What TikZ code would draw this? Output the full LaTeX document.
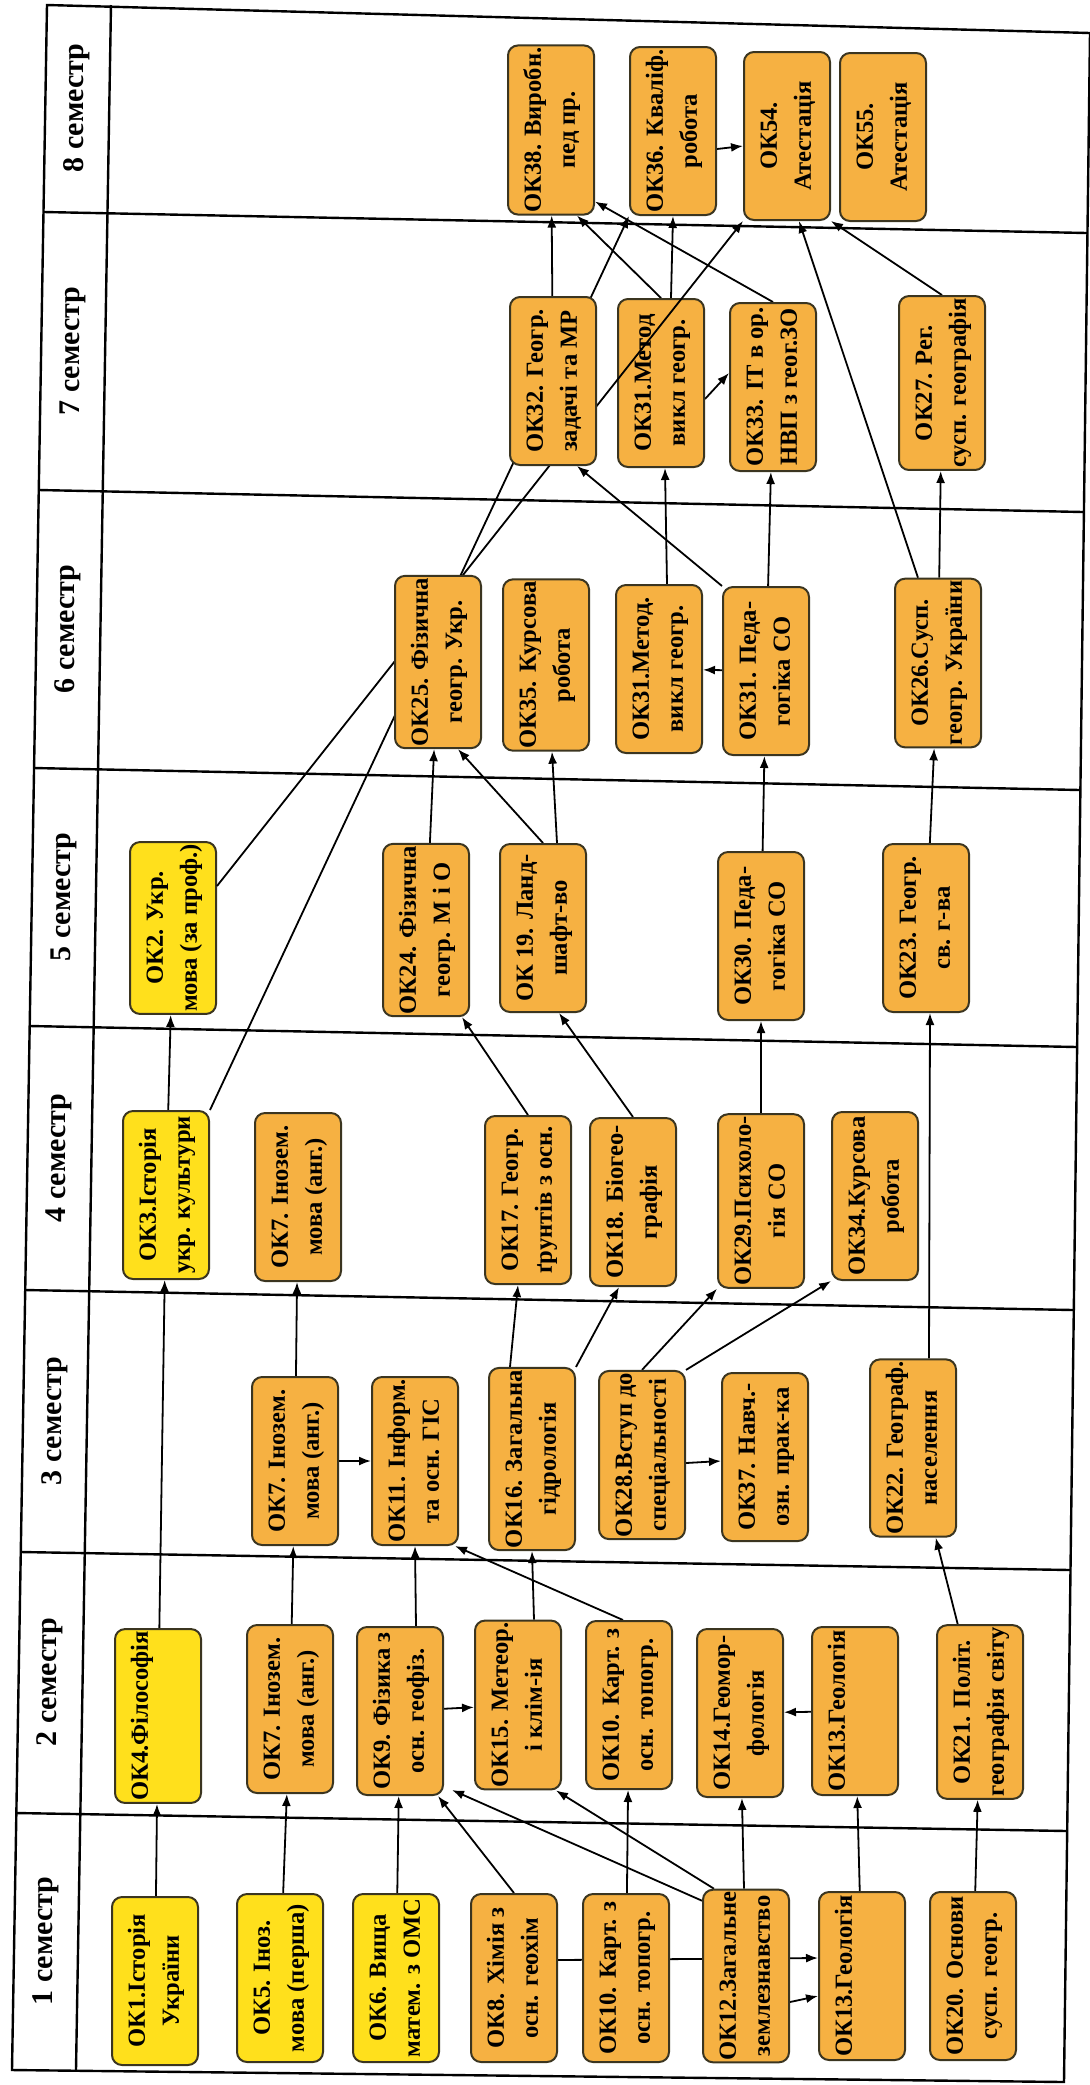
\documentclass[tikz,border=0pt]{standalone}
\usepackage{fontspec}
\setmainfont{Liberation Serif}
\usepackage{graphicx}
\usetikzlibrary{arrows.meta}
\pgfdeclarelayer{background}
\pgfsetlayers{background,main}
\definecolor{boxyellow}{HTML}{FFE01C}
\definecolor{boxorange}{HTML}{F6B142}
\definecolor{boxedge}{HTML}{3B3520}
\newcommand{\vtext}[1]{\rotatebox{90}{\begin{tabular}{@{}c@{}}#1\end{tabular}}}

\begin{document}
\begin{tikzpicture}[x=0.5pt, y=-0.5pt,
    course/.style={draw=boxedge, line width=1pt, rounded corners=5pt, minimum width=43pt, minimum height=84pt, inner sep=1pt, font=\fontsize{12.3}{17}\selectfont\bfseries},
    general/.style={course, fill=boxyellow},
    prof/.style={course, fill=boxorange},
    semester/.style={rotate=90, font=\fontsize{15}{18}\selectfont\bfseries},
    grid/.style={line width=1.2pt},
    prereq/.style={line width=0.9pt, -{Latex[length=6pt,width=4.5pt]}}]
\useasboundingbox (0,0) rectangle (1089,2085);

% table
\draw[grid] (47,5) -- (1090,33) -- (1064,2082) -- (12,2070) -- cycle;
\draw[grid] (111,5) -- (76,2070);
\draw[grid] (44,212) -- (1087,233);
\draw[grid] (39,490) -- (1083,512);
\draw[grid] (34,768) -- (1080,790);
\draw[grid] (30,1026) -- (1077,1047);
\draw[grid] (25,1290) -- (1073,1310);
\draw[grid] (21,1552) -- (1070,1570);
\draw[grid] (16,1813) -- (1067,1831);

\node[semester] (sem8) at (77,108) {8 семестр};
\node[semester] (sem7) at (73,351) {7 семестр};
\node[semester] (sem6) at (68,629) {6 семестр};
\node[semester] (sem5) at (64,897) {5 семестр};
\node[semester] (sem4) at (59,1158) {4 семестр};
\node[semester] (sem3) at (55,1421) {3 семестр};
\node[semester] (sem2) at (50,1682) {2 семестр};
\node[semester] (sem1) at (46,1941) {1 семестр};

% 1 семестр
\node[general] (ok1) at (155,1981) {\vtext{ОК1.Історія\\України}};
\node[general] (ok5) at (280,1978) {\vtext{ОК5. Іноз.\\мова (перша)}};
\node[general] (ok6) at (396,1978) {\vtext{ОК6. Вища\\матем. з ОМС}};
\node[prof] (ok8) at (514,1978) {\vtext{ОК8. Хімія з\\осн. геохім}};
\node[prof] (ok10a) at (626,1978) {\vtext{ОК10. Карт. з\\осн. топогр.}};
\node[prof] (ok12) at (746,1976) {\vtext{ОК12.Загальне\\землезнавство}};
\node[prof] (ok13a) at (862,1976) {\vtext{ОК13.Геологія\\\mbox{}}};
\node[prof] (ok20) at (973,1976) {\vtext{ОК20. Основи\\сусп. геогр.}};

% 2 семестр
\node[general] (ok4) at (158,1716) {\vtext{ОК4.Філософія\\\mbox{}}};
\node[prof] (ok7a) at (290,1709) {\vtext{ОК7. Інозем.\\мова (анг.)}};
\node[prof] (ok9) at (400,1711) {\vtext{ОК9. Фізика з\\осн. геофіз.}};
\node[prof] (ok15) at (518,1705) {\vtext{ОК15. Метеор.\\і клім-ія}};
\node[prof] (ok10b) at (629,1705) {\vtext{ОК10. Карт. з\\осн. топогр.}};
\node[prof] (ok14) at (740,1713) {\vtext{ОК14.Геомор-\\фологія}};
\node[prof] (ok13b) at (855,1711) {\vtext{ОК13.Геологія\\\mbox{}}};
\node[prof] (ok21) at (980,1712) {\vtext{ОК21. Політ.\\географія світу}};

% 3 семестр
\node[prof] (ok7b) at (295,1461) {\vtext{ОК7. Інозем.\\мова (анг.)}};
\node[prof] (ok11) at (415,1461) {\vtext{ОК11. Інформ.\\та осн. ГІС}};
\node[prof] (ok16) at (532,1459) {\vtext{ОК16. Загальна\\гідрологія}};
\node[prof] (ok28) at (642,1455) {\vtext{ОК28.Вступ до\\спеціальності}};
\node[prof] (ok37) at (765,1457) {\vtext{ОК37. Навч.-\\озн. прак-ка}};
\node[prof] (ok22) at (913,1448) {\vtext{ОК22. Географ.\\населення}};

% 4 семестр
\node[general] (ok3) at (166,1195) {\vtext{ОК3.Історія\\укр. культури}};
\node[prof] (ok7c) at (298,1197) {\vtext{ОК7. Інозем.\\мова (анг.)}};
\node[prof] (ok17) at (528,1200) {\vtext{ОК17. Геогр.\\ґрунтів з осн.}};
\node[prof] (ok18) at (633,1202) {\vtext{ОК18. Біогео-\\графія}};
\node[prof] (ok29) at (761,1201) {\vtext{ОК29.Психоло-\\гія СО}};
\node[prof] (ok34) at (875,1196) {\vtext{ОК34.Курсова\\робота}};

% 5 семестр
\node[general] (ok2) at (173,928) {\vtext{ОК2. Укр.\\мова (за проф.)}};
\node[prof] (ok24) at (426,930) {\vtext{ОК24. Фізична\\геогр. М і О}};
\node[prof] (ok19) at (543,928) {\vtext{ОК 19. Ланд-\\шафт-во}};
\node[prof] (ok30) at (761,936) {\vtext{ОК30. Педа-\\гогіка СО}};
\node[prof] (ok23) at (926,928) {\vtext{ОК23. Геогр.\\св. г-ва}};

% 6 семестр
\node[prof] (ok35) at (546,665) {\vtext{ОК35. Курсова\\робота}};
\node[prof] (ok31m) at (659,669) {\vtext{ОК31.Метод.\\викл геогр.}};
\node[prof] (ok31p) at (766,671) {\vtext{ОК31. Педа-\\гогіка СО}};
\node[prof] (ok26) at (938,663) {\vtext{ОК26.Сусп.\\геогр. України}};

% 7 семестр
\node[prof] (ok31g) at (661,383) {\vtext{ОК31.Метод\\викл геогр.}};
\node[prof] (ok33) at (773,387) {\vtext{ОК33. ІТ в ор.\\НВП з геог.ЗО}};
\node[prof] (ok27) at (942,383) {\vtext{ОК27. Рег.\\сусп. географія}};

% 8 семестр
\node[prof] (ok38) at (551,130) {\vtext{ОК38. Виробн.\\пед пр.}};
\node[prof] (ok36) at (673,131) {\vtext{ОК36. Кваліф.\\робота}};
\node[prof] (ok54) at (787,136) {\vtext{ОК54.\\Атестація}};
\node[prof] (ok55) at (883,137) {\vtext{ОК55.\\Атестація}};

\draw[prereq] ([yshift=21pt]ok2.east) -- (ok54.south west);

\node[prof] (ok25) at (438,662) {\vtext{ОК25. Фізична\\геогр. Укр.}};
\node[prof] (ok32) at (553,381) {\vtext{ОК32. Геогр.\\задачі та МР}};

\begin{pgfonlayer}{background}
\draw[prereq] (ok1) -- (ok4);
\draw[prereq] (ok5) -- (ok7a);
\draw[prereq] (ok6) -- (ok9);
\draw[prereq] (ok8.north) -- ([xshift=-3pt]ok9.south east);
\draw[prereq] ([yshift=-6pt]ok12.north west) -- ([xshift=4pt,yshift=3pt]ok9.south east);
\draw[prereq] ([xshift=6pt]ok12.north west) -- ([xshift=-3pt]ok15.south east);
\draw[prereq] (ok10a) -- (ok10b);
\draw[prereq] (ok12) -- (ok14);
\draw[prereq] (ok13a) -- (ok13b);
\draw[prereq] (ok20) -- (ok21);
\draw[prereq] ([yshift=9pt]ok8.east) -- ([yshift=9pt]ok13a.west);
\draw[prereq] ([yshift=-13pt]ok12.east) -- ([yshift=-10pt]ok13a.west);

\draw[prereq] (ok9) -- (ok15);
\draw[prereq] (ok13b) -- (ok14);
\draw[prereq] (ok4) -- (ok3);
\draw[prereq] (ok7a) -- (ok7b);
\draw[prereq] ([xshift=8pt]ok9.north) -- (ok11.south);
\draw[prereq] ([xshift=8pt]ok15.north) -- (ok16.south);
\draw[prereq] ([xshift=-3pt]ok10b.north) -- ([xshift=-2pt]ok11.south east);
\draw[prereq] (ok21) -- (ok22);

\draw[prereq] (ok7b) -- (ok11);
\draw[prereq] ([yshift=-4pt]ok28.east) -- ([yshift=-2pt]ok37.west);
\draw[prereq] (ok7b) -- (ok7c);
\draw[prereq] ([xshift=-11pt]ok16.north) -- ([xshift=-5pt]ok17.south);
\draw[prereq] (ok16.north east) -- ([xshift=-7pt]ok18.south);
\draw[prereq] (ok28.north) -- (ok29.south west);
\draw[prereq] (ok28.north east) -- (ok34.south west);

\draw[prereq] (ok3) -- (ok2);
\draw[prereq] (ok3.north east) -- (ok36.south west);
\draw[prereq] (ok17.north) -- ([xshift=-4pt]ok24.south east);
\draw[prereq] (ok18.north) -- ([xshift=8pt]ok19.south);
\draw[prereq] (ok29) -- (ok30);
\draw[prereq] ([xshift=8pt]ok22.north) -- ([xshift=2pt]ok23.south);

\draw[prereq] (ok24) -- (ok25);
\draw[prereq] (ok19.north) -- ([xshift=10pt]ok25.south);
\draw[prereq] ([xshift=7pt]ok19.north) -- ([xshift=3pt]ok35.south);
\draw[prereq] (ok30) -- (ok31p);
\draw[prereq] (ok23) -- (ok26);
\draw[prereq] (ok31p) -- (ok31m);

\draw[prereq] ([xshift=4pt]ok31m.north) -- ([xshift=2pt]ok31g.south);
\draw[prereq] (ok31p.north west) -- ([xshift=-10pt]ok32.south east);
\draw[prereq] (ok31p) -- (ok33);
\draw[prereq] (ok26) -- (ok27);
\draw[prereq] ([xshift=-10pt]ok26.north) -- ([xshift=6pt]ok54.south);
\draw[prereq] ([yshift=-8pt]ok31g.east) -- ([yshift=7pt]ok33.west);

\draw[prereq] (ok32) -- (ok38);
\draw[prereq] (ok31g.north) -- ([xshift=13pt]ok38.south);
\draw[prereq] ([xshift=5pt]ok31g.north) -- (ok36.south);
\draw[prereq] (ok33.north) -- ([yshift=7pt]ok38.south east);
\draw[prereq] ([yshift=-9pt]ok36.east) -- ([yshift=-5pt]ok54.west);
\draw[prereq] (ok27.north) -- (ok54.south east);
\end{pgfonlayer}
\end{tikzpicture}
\end{document}
